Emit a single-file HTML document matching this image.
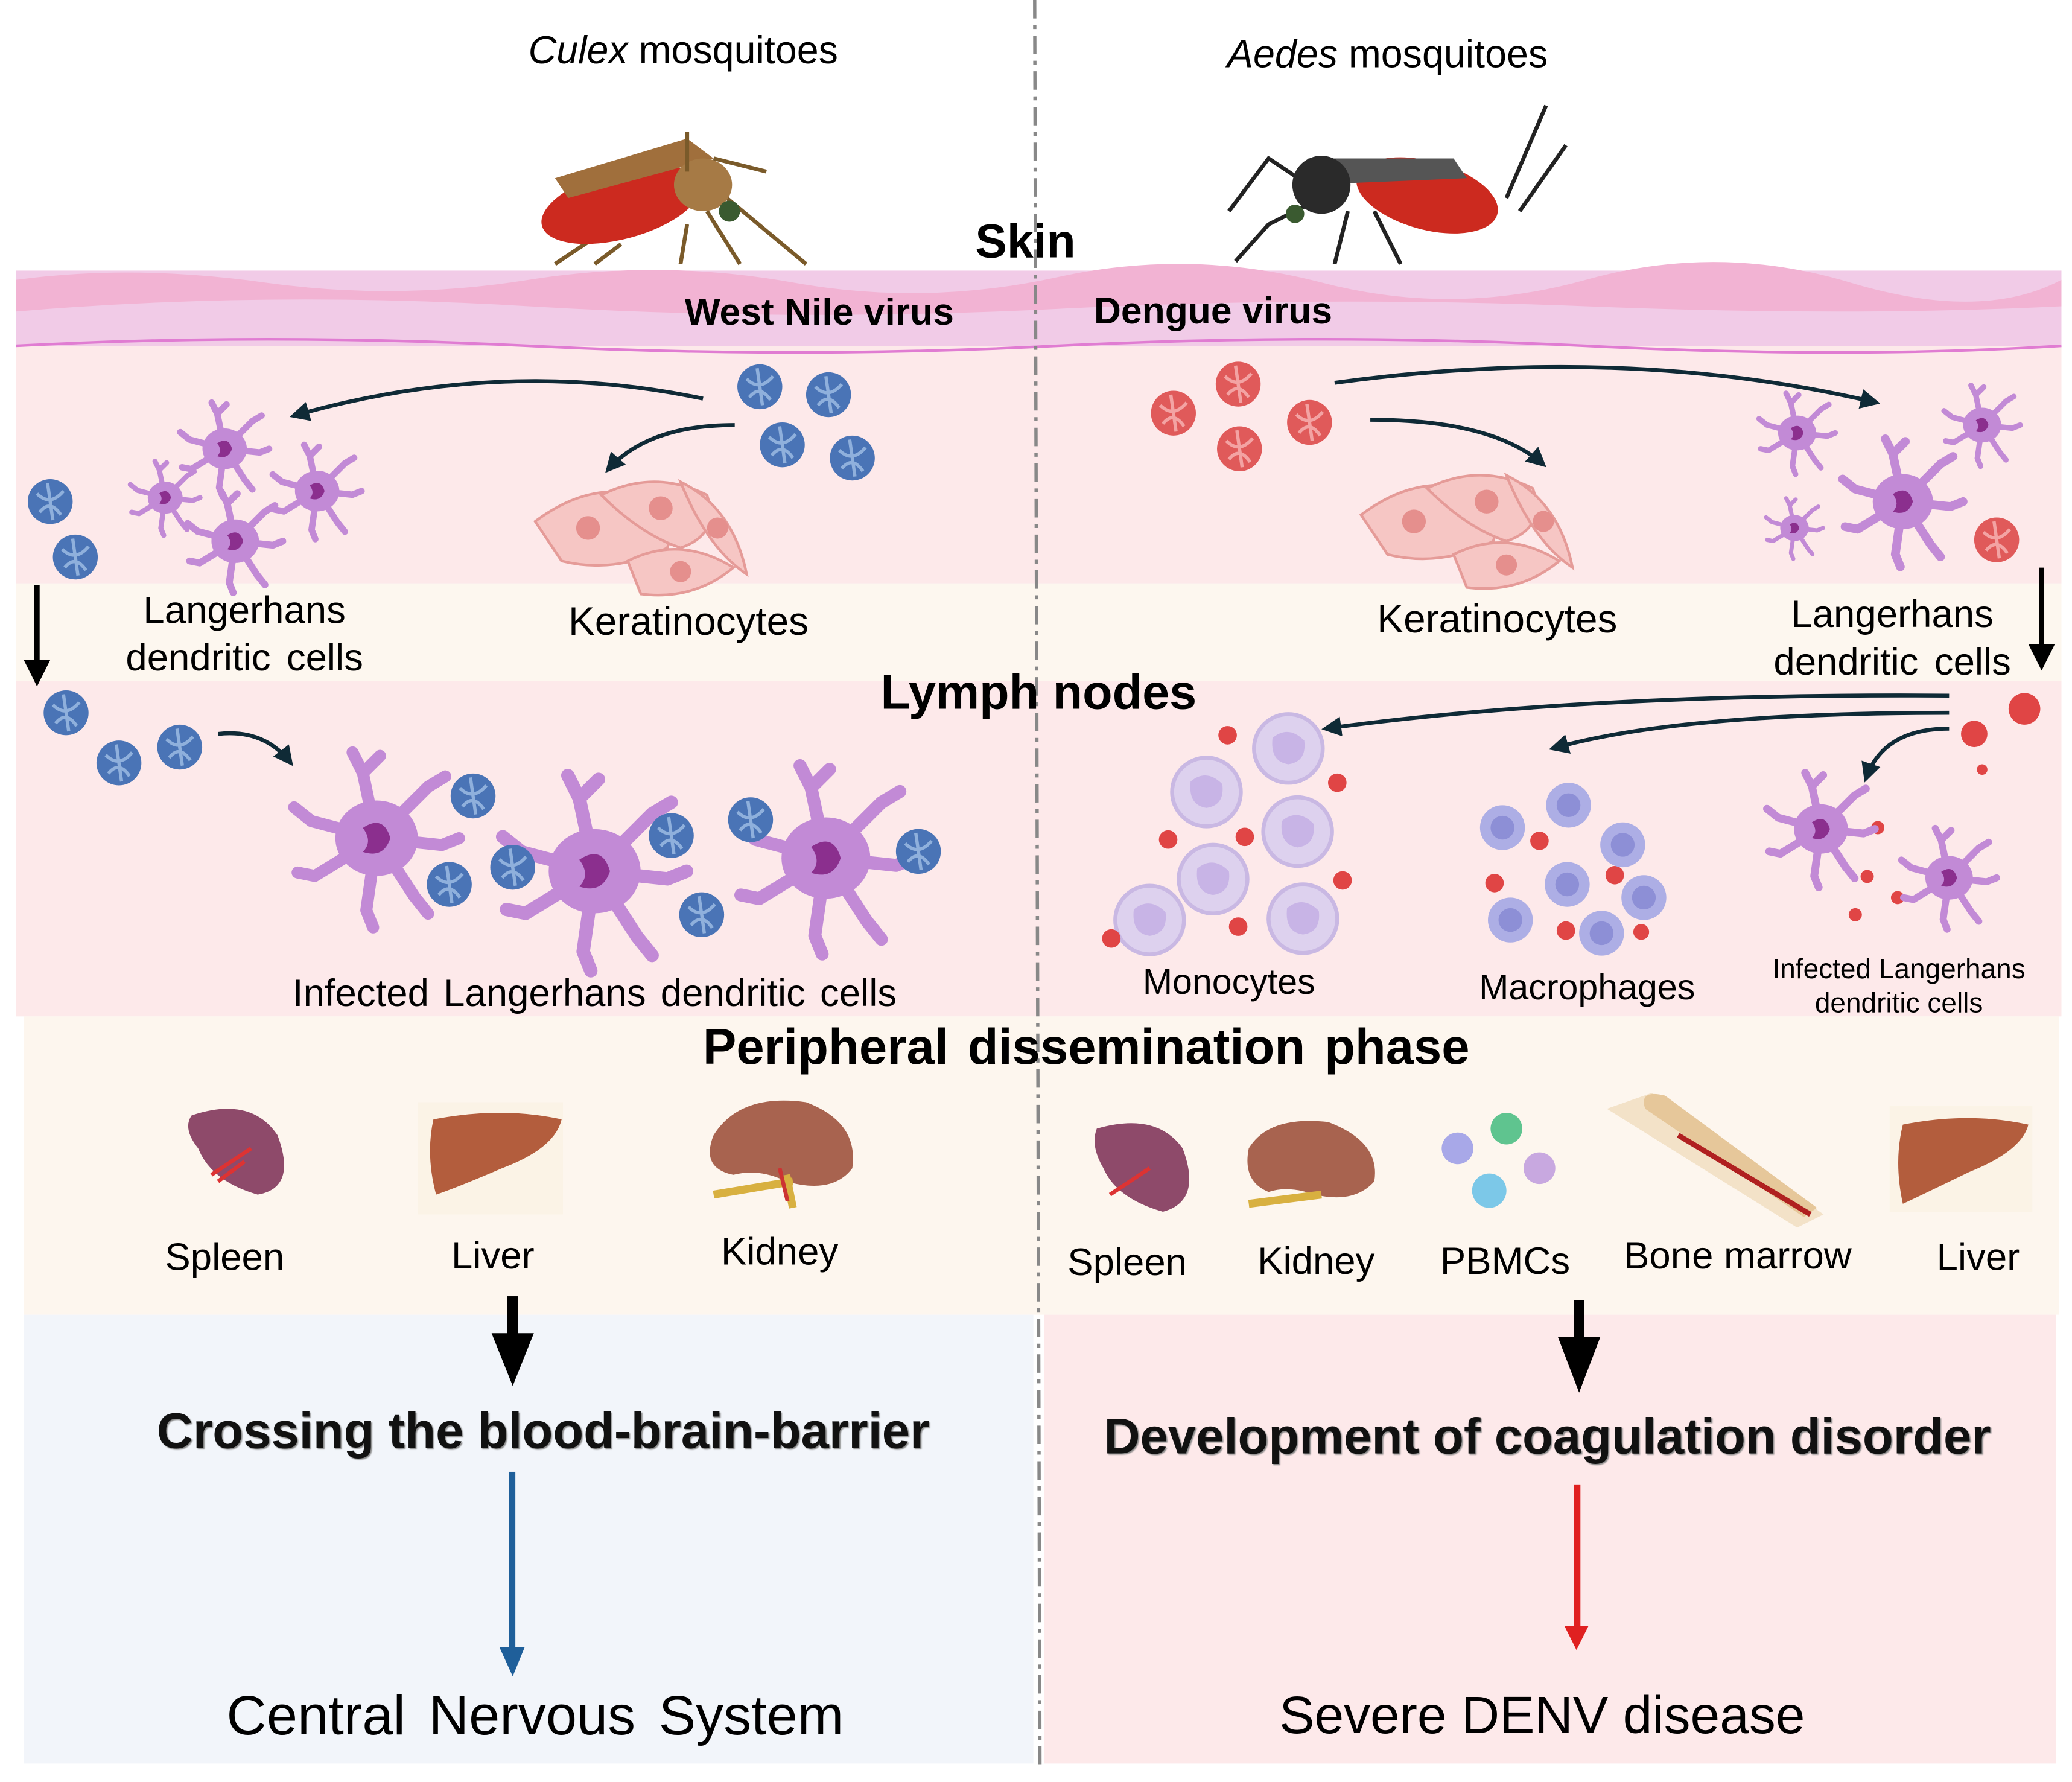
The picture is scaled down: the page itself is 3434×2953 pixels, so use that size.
<!DOCTYPE html>
<html><head><meta charset="utf-8">
<style>
html,body{margin:0;padding:0;background:#fff;}
svg{display:block;}
text{font-family:"Liberation Sans",Arial,sans-serif;}
</style></head>
<body>
<svg width="3434" height="2953" viewBox="0 0 1568 1350" preserveAspectRatio="none" xmlns="http://www.w3.org/2000/svg">
<defs>
<marker id="ah" viewBox="0 0 10 10" refX="8" refY="5" markerWidth="5" markerHeight="5" orient="auto"><path d="M0,0 L10,5 L0,10 z" fill="#0f2a36"/></marker>
<g id="dc">
 <g stroke="#c28ad6" stroke-width="7" stroke-linecap="round" fill="none">
  <path d="M0,0 L-8,-38 M-8,-38 L-14,-50 M-8,-38 L2,-48"/>
  <path d="M0,0 L30,-30 M30,-30 L40,-36"/>
  <path d="M0,0 L38,4 M38,4 L48,0"/>
  <path d="M0,0 L22,34 M22,34 L30,44"/>
  <path d="M0,0 L-6,42 M-6,42 L-2,52"/>
  <path d="M0,0 L-36,22 M-36,22 L-46,20"/>
  <path d="M0,0 L-38,-10 M-38,-10 L-48,-18"/>
 </g>
 <ellipse cx="0" cy="0" rx="24" ry="22" fill="#c28ad6"/>
 <path d="M-8,-6 Q4,-14 8,0 Q4,12 -8,8 Q-2,2 -8,-6z" fill="#8b2f8e"/>
</g>
<g id="vb"><circle r="17" fill="#4a74b6"/><path d="M-10,-6 Q0,4 10,-8 M-8,8 Q0,-2 8,10 M-2,-14 L2,14" stroke="#8fb0dc" stroke-width="2.5" fill="none"/></g>
<g id="vr"><circle r="17" fill="#e05a5a"/><path d="M-10,-6 Q0,4 10,-8 M-8,8 Q0,-2 8,10 M-2,-14 L2,14" stroke="#f3a3a3" stroke-width="2.5" fill="none"/></g>
<g id="kc">
 <path d="M-80,-10 Q-40,-40 0,-30 Q30,-20 20,10 Q-20,30 -60,20 Z" fill="#f6c6c4" stroke="#e59b98" stroke-width="2"/>
 <circle cx="-40" cy="-5" r="9" fill="#e58f8d"/>
 <path d="M-30,-30 Q10,-50 50,-30 Q60,0 30,10 Q0,0 -30,-30Z" fill="#f6c6c4" stroke="#e59b98" stroke-width="2"/>
 <circle cx="15" cy="-20" r="9" fill="#e58f8d"/>
 <path d="M30,-40 Q70,-20 80,30 Q50,10 30,-40Z" fill="#f6c6c4" stroke="#e59b98" stroke-width="2"/>
 <circle cx="58" cy="-5" r="8" fill="#e58f8d"/>
 <path d="M-10,20 Q30,0 70,25 Q40,50 0,45 Z" fill="#f6c6c4" stroke="#e59b98" stroke-width="2"/>
 <circle cx="30" cy="28" r="8" fill="#e58f8d"/>
</g>
<g id="mono"><circle r="26" fill="#ddd1ee" stroke="#c9b8e3" stroke-width="3"/><path d="M-12,-8 Q0,-18 12,-6 Q14,10 0,12 Q-14,10 -12,-8z" fill="#c8b4e6"/></g>
<g id="mac"><circle r="17" fill="#adaee5"/><circle r="9" fill="#8d8fd6"/></g>
</defs>

<rect x="12" y="205" width="1548" height="60" fill="#f1cbe7"/>
<path d="M12,212 Q100,200 200,214 T400,212 T600,214 T800,210 T1000,214 T1200,212 T1400,214 T1560,212 L1560,232 Q1400,240 1200,232 T800,234 T400,232 T12,236Z" fill="#f2b3d3"/>
<rect x="12" y="262" width="1548" height="180" fill="#fde9ea"/>
<path d="M12,262 Q200,252 400,262 T800,262 T1200,262 T1560,262" stroke="#e07cd2" stroke-width="2" fill="none"/>
<rect x="12" y="442" width="1548" height="74" fill="#fdf7ef"/>
<rect x="12" y="516" width="1548" height="254" fill="#fde9ea"/>
<rect x="18" y="770" width="1540" height="226" fill="#fdf6ee"/>
<rect x="18" y="996" width="764" height="340" fill="#f2f5fa"/>
<rect x="790" y="996" width="766" height="340" fill="#fde9ea"/>
<line x1="783" y1="0" x2="787" y2="1340" stroke="#888" stroke-width="2.5" stroke-dasharray="14,5,3,5"/>

<g>
 <g stroke="#7a5a2a" stroke-width="3" fill="none">
  <path d="M450,180 L420,200 M470,185 L450,200 M520,170 L515,200 M535,160 L560,200 M550,150 L610,200 M540,120 L580,130"/>
 </g>
 <ellipse cx="470" cy="155" rx="62" ry="26" fill="#cc2a1f" transform="rotate(-15 470 155)"/>
 <path d="M420,135 L520,105 L540,120 L430,150z" fill="#a06f3c"/>
 <ellipse cx="532" cy="140" rx="22" ry="20" fill="#a67a45"/>
 <circle cx="552" cy="160" r="8" fill="#3a5a30"/>
 <path d="M520,100 L520,130" stroke="#7a5a2a" stroke-width="3"/>
</g>
<g>
 <g stroke="#222" stroke-width="3" fill="none">
  <path d="M1000,150 L960,170 L935,198 M990,140 L960,120 L930,160 M1020,160 L1010,200 M1040,160 L1060,200 M1140,150 L1170,80 M1150,160 L1185,110"/>
 </g>
 <ellipse cx="1080" cy="148" rx="55" ry="26" fill="#cc2a1f" transform="rotate(15 1080 148)"/>
 <path d="M990,120 L1100,120 L1110,135 L990,140z" fill="#555"/>
 <ellipse cx="1000" cy="140" rx="22" ry="22" fill="#2a2a2a"/>
 <circle cx="980" cy="162" r="7" fill="#3a5a30"/>
</g>

<text x="517" y="48" font-size="29.5" text-anchor="middle"><tspan font-style="italic">Culex</tspan> mosquitoes</text>
<text x="1050" y="51" font-size="29.5" text-anchor="middle"><tspan font-style="italic">Aedes</tspan> mosquitoes</text>
<text x="776" y="195" font-size="36" font-weight="bold" text-anchor="middle">Skin</text>
<text x="620" y="246" font-size="28.5" font-weight="bold" text-anchor="middle">West Nile virus</text>
<text x="918" y="245" font-size="28.5" font-weight="bold" text-anchor="middle">Dengue virus</text>

<use href="#vb" x="575" y="293"/><use href="#vb" x="627" y="299"/><use href="#vb" x="592" y="337"/><use href="#vb" x="645" y="347"/>
<use href="#vb" x="38" y="380"/><use href="#vb" x="57" y="422"/>
<use href="#dc" transform="translate(170 340) scale(0.7)"/><use href="#dc" transform="translate(125 377) scale(0.55)"/>
<use href="#dc" transform="translate(240 372) scale(0.7)"/><use href="#dc" transform="translate(178 410) scale(0.75)"/>
<use href="#kc" transform="translate(485 405)"/>
<path d="M532,302 Q380,270 222,315" stroke="#0f2a36" stroke-width="3" fill="none" marker-end="url(#ah)"/>
<path d="M556,322 Q490,322 460,356" stroke="#0f2a36" stroke-width="3" fill="none" marker-end="url(#ah)"/>
<text x="185" y="472" font-size="29" text-anchor="middle" word-spacing="4">Langerhans</text>
<text x="185" y="508" font-size="29" text-anchor="middle" word-spacing="4">dendritic cells</text>
<text x="521" y="481" font-size="30" text-anchor="middle">Keratinocytes</text>
<path d="M28,443 L28,510" stroke="#000" stroke-width="4"/><path d="M18,500 L28,520 L38,500z" fill="#000"/>

<use href="#vr" x="888" y="313"/><use href="#vr" x="937" y="291"/><use href="#vr" x="938" y="340"/><use href="#vr" x="991" y="320"/><use href="#vr" x="1511" y="409"/>
<use href="#kc" transform="translate(1110 400)"/>
<use href="#dc" transform="translate(1360 328) scale(0.6)"/><use href="#dc" transform="translate(1500 322) scale(0.6)"/>
<use href="#dc" transform="translate(1440 380) scale(0.95)"/><use href="#dc" transform="translate(1358 400) scale(0.45)"/>
<path d="M1010,290 Q1230,260 1420,305" stroke="#0f2a36" stroke-width="3" fill="none" marker-end="url(#ah)"/>
<path d="M1037,318 Q1130,318 1168,352" stroke="#0f2a36" stroke-width="3" fill="none" marker-end="url(#ah)"/>
<text x="1133" y="479" font-size="30" text-anchor="middle">Keratinocytes</text>
<text x="1432" y="475" font-size="29" text-anchor="middle" word-spacing="4">Langerhans</text>
<text x="1432" y="511" font-size="29" text-anchor="middle" word-spacing="4">dendritic cells</text>
<path d="M1545,430 L1545,495" stroke="#000" stroke-width="4"/><path d="M1535,488 L1545,508 L1555,488z" fill="#000"/>

<text x="786" y="537" font-size="37" font-weight="bold" text-anchor="middle">Lymph nodes</text>
<use href="#vb" x="50" y="540"/><use href="#vb" x="90" y="578"/><use href="#vb" x="136" y="566"/>
<path d="M165,556 Q200,552 220,578" stroke="#0f2a36" stroke-width="3" fill="none" marker-end="url(#ah)"/>
<use href="#dc" transform="translate(285 635) scale(1.3)"/>
<use href="#dc" transform="translate(450 660) scale(1.45)"/>
<use href="#dc" transform="translate(625 650) scale(1.4)"/>
<use href="#vb" x="358" y="603"/><use href="#vb" x="340" y="670"/><use href="#vb" x="388" y="657"/><use href="#vb" x="508" y="633"/><use href="#vb" x="531" y="693"/><use href="#vb" x="568" y="621"/><use href="#vb" x="695" y="645"/>
<text x="450" y="762" font-size="29" text-anchor="middle" word-spacing="3">Infected Langerhans dendritic cells</text>

<use href="#mono" x="975" y="567"/><use href="#mono" x="913" y="600"/><use href="#mono" x="982" y="630"/><use href="#mono" x="918" y="666"/><use href="#mono" x="870" y="697"/><use href="#mono" x="986" y="696"/>
<g fill="#e04545"><circle cx="929" cy="557" r="7"/><circle cx="1012" cy="593" r="7"/><circle cx="884" cy="636" r="7"/><circle cx="942" cy="634" r="7"/><circle cx="1016" cy="667" r="7"/><circle cx="937" cy="702" r="7"/><circle cx="841" cy="711" r="7"/>
<circle cx="1165" cy="637" r="7"/><circle cx="1222" cy="663" r="7"/><circle cx="1131" cy="669" r="7"/><circle cx="1185" cy="705" r="7"/><circle cx="1242" cy="706" r="6"/><circle cx="1494" cy="556" r="10"/><circle cx="1532" cy="537" r="12"/><circle cx="1500" cy="583" r="4"/>
<circle cx="1421" cy="627" r="5"/><circle cx="1413" cy="664" r="5"/><circle cx="1436" cy="680" r="5"/><circle cx="1404" cy="693" r="5"/></g>
<use href="#mac" x="1137" y="627"/><use href="#mac" x="1187" y="610"/><use href="#mac" x="1228" y="640"/><use href="#mac" x="1186" y="670"/><use href="#mac" x="1143" y="697"/><use href="#mac" x="1212" y="707"/><use href="#mac" x="1244" y="680"/>
<use href="#dc" transform="translate(1378 628) scale(0.85)"/><use href="#dc" transform="translate(1475 665) scale(0.75)"/>
<path d="M1475,527 Q1200,525 1003,552" stroke="#0f2a36" stroke-width="3" fill="none" marker-end="url(#ah)"/>
<path d="M1475,540 Q1270,540 1175,567" stroke="#0f2a36" stroke-width="3" fill="none" marker-end="url(#ah)"/>
<path d="M1475,552 Q1425,552 1412,590" stroke="#0f2a36" stroke-width="3" fill="none" marker-end="url(#ah)"/>
<text x="930" y="753" font-size="27" text-anchor="middle">Monocytes</text>
<text x="1201" y="757" font-size="27" text-anchor="middle">Macrophages</text>
<text x="1437" y="741" font-size="21" text-anchor="middle">Infected Langerhans</text>
<text x="1437" y="767" font-size="21" text-anchor="middle">dendritic cells</text>

<text x="822" y="806" font-size="38" font-weight="bold" text-anchor="middle" word-spacing="4">Peripheral dissemination phase</text>
<g>
 <path d="M145,845 Q190,830 210,860 Q225,900 195,905 Q160,895 150,870 Q138,855 145,845z" fill="#8e4a6a"/>
 <path d="M160,890 L190,870 M165,895 L185,880" stroke="#d33" stroke-width="3"/>
 <rect x="316" y="835" width="110" height="85" fill="#fbf3e6"/>
 <path d="M328,848 Q380,838 425,848 Q420,870 380,885 Q345,900 330,905 Q322,875 328,848z" fill="#b35d3d"/>
 <path d="M540,860 Q560,828 610,835 Q650,850 645,885 Q630,905 595,895 Q575,885 555,890 Q530,885 540,860z" fill="#a8634f"/>
 <path d="M540,905 L600,895 M595,890 L600,915" stroke="#d8b040" stroke-width="6"/>
 <path d="M590,885 L596,910" stroke="#c33" stroke-width="3"/>
</g>
<text x="170" y="962" font-size="29" text-anchor="middle">Spleen</text>
<text x="373" y="961" font-size="29" text-anchor="middle">Liver</text>
<text x="590" y="958" font-size="29" text-anchor="middle">Kidney</text>

<g>
 <path d="M830,855 Q875,842 895,870 Q910,910 880,918 Q845,908 835,885 Q825,868 830,855z" fill="#8e4a6a"/>
 <path d="M840,905 L870,885" stroke="#d33" stroke-width="3"/>
 <path d="M945,870 Q960,845 1005,850 Q1045,865 1040,895 Q1025,912 995,905 Q975,898 960,903 Q940,895 945,870z" fill="#a8634f"/>
 <path d="M945,912 L1000,905" stroke="#d8b040" stroke-width="6"/>
 <circle cx="1103" cy="870" r="12" fill="#a8a8e8"/><circle cx="1140" cy="855" r="12" fill="#5fc48f"/><circle cx="1165" cy="885" r="12" fill="#c8a8e0"/><circle cx="1127" cy="902" r="13" fill="#7cc8e8"/>
 <path d="M1216,840 L1250,828 L1380,920 L1360,930 Z" fill="#f3e2c8"/>
 <path d="M1245,840 Q1240,825 1260,830 L1375,915 L1365,922 Z" fill="#e6c79a"/>
 <path d="M1270,860 L1370,920" stroke="#b02020" stroke-width="4"/>
 <rect x="1430" y="838" width="108" height="80" fill="#fbf3e6"/>
 <path d="M1440,852 Q1490,842 1535,852 Q1530,872 1490,888 Q1455,905 1440,912 Q1433,880 1440,852z" fill="#b35d3d"/>
</g>
<text x="853" y="966" font-size="29" text-anchor="middle">Spleen</text>
<text x="996" y="965" font-size="29" text-anchor="middle">Kidney</text>
<text x="1139" y="965" font-size="29" text-anchor="middle">PBMCs</text>
<text x="1315" y="961" font-size="29" text-anchor="middle">Bone marrow</text>
<text x="1497" y="962" font-size="29" text-anchor="middle">Liver</text>

<rect x="384" y="982" width="8" height="30" fill="#000"/><path d="M372,1010 L388,1050 L404,1010z" fill="#000"/>
<rect x="1191" y="985" width="8" height="30" fill="#000"/><path d="M1179,1013 L1195,1055 L1211,1013z" fill="#000"/>
<text x="411" y="1097" font-size="38" font-weight="bold" text-anchor="middle" fill="#111" style="text-shadow:2px 2px 2px #888">Crossing the blood-brain-barrier</text>
<text x="1171" y="1101" font-size="38" font-weight="bold" text-anchor="middle" fill="#111" style="text-shadow:2px 2px 2px #888">Development of coagulation disorder</text>
<rect x="385" y="1115" width="5" height="135" fill="#1f5f9a"/><path d="M378,1248 L388,1270 L397,1248z" fill="#1f5f9a"/>
<rect x="1191" y="1125" width="5" height="110" fill="#e02020"/><path d="M1184,1232 L1193,1250 L1202,1232z" fill="#e02020"/>
<text x="405" y="1314" font-size="42" text-anchor="middle" word-spacing="6">Central Nervous System</text>
<text x="1167" y="1313" font-size="40" text-anchor="middle">Severe DENV disease</text>
</svg>
</body></html>
